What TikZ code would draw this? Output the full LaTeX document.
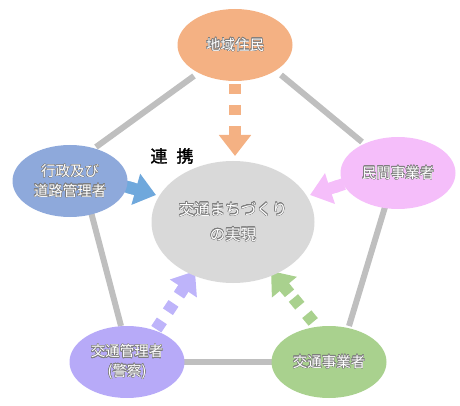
\documentclass[tikz,border=0pt]{standalone}
\usepackage{fontspec}
\setmainfont{Noto Sans CJK JP}
\newfontfamily\rkfont{Noto Sans CJK JP}[FakeBold=1.6]
\usepackage[copies]{contour}
\contourlength{0.45pt}
\contournumber{16}
\usetikzlibrary{shapes.geometric,arrows.meta,calc}
\definecolor{cOr}{RGB}{244,177,131}
\definecolor{cBl}{RGB}{142,169,219}
\definecolor{cBlA}{RGB}{111,168,220}
\definecolor{cPk}{RGB}{245,190,250}
\definecolor{cPu}{RGB}{183,170,248}
\definecolor{cPuA}{RGB}{190,180,250}
\definecolor{cGr}{RGB}{169,209,142}
\definecolor{cGy}{RGB}{217,217,217}
\definecolor{cLn}{RGB}{191,191,191}
\definecolor{cTx}{RGB}{125,125,125}
\newcommand\wt[1]{\contour{cTx}{#1}}
\newcommand\flow[3]{%
  \draw[#1, line width=12pt, dash pattern=on 10pt off 11pt,
        -{Triangle[width=31pt,length=21pt]}] (#2) -- (#3);
  \draw[#1, line width=12pt] ($(#3)!29pt!(#2)$) -- ($(#3)!20pt!(#2)$);
}
\begin{document}
\begin{tikzpicture}[x=1pt,y=-1pt,
  bub/.style={ellipse, minimum width=115pt, minimum height=72pt, inner sep=0pt,
    text=white, font=\fontsize{14.5}{19.5}\selectfont, align=center},
  link/.style={draw=cLn, line width=6pt}]
\useasboundingbox (0,0) rectangle (460,406);
% pentagon link ends
\coordinate (l1a) at (96,147);
\coordinate (l1b) at (194,76);
\coordinate (l2a) at (281,75);
\coordinate (l2b) at (362,142);
\coordinate (l3a) at (91,212);
\coordinate (l3b) at (121,326);
\coordinate (l4a) at (385,207);
\coordinate (l4b) at (349,326);
\coordinate (l5a) at (180,362);
\coordinate (l5b) at (276,362);
\draw[link] (l1a) -- (l1b);
\draw[link] (l2a) -- (l2b);
\draw[link] (l3a) -- (l3b);
\draw[link] (l4a) -- (l4b);
\draw[link] (l5a) -- (l5b);
% arrow ends
\coordinate (aOs) at (235,84);
\coordinate (aOt) at (235,156);
\coordinate (aBs) at (124,186);
\coordinate (aBt) at (156,195);
\coordinate (aPs) at (344,184);
\coordinate (aPt) at (310,195);
\coordinate (aUs) at (156.3,329.2);
\coordinate (aUt) at (195,271);
\coordinate (aGs) at (313.2,321.9);
\coordinate (aGt) at (271,271);
\flow{cOr}{aOs}{aOt}
\flow{cBlA}{aBs}{aBt}
\flow{cPk}{aPs}{aPt}
\flow{cPuA}{aUs}{aUt}
\flow{cGr}{aGs}{aGt}
% nodes
\node[bub, fill=cOr] (res) at (235,45) {\wt{地域住民}};
\node[bub, fill=cBl] (adm) at (70,181) {\wt{行政及び}\\\wt{道路管理者}};
\node[bub, fill=cPk] (pri) at (398,173) {\wt{民間事業者}};
\node[bub, fill=cPu] (pol) at (127,362) {\wt{交通管理者}\\\wt{(警察)}};
\node[bub, fill=cGr] (tra) at (329,362) {\wt{交通事業者}};
\node[ellipse, fill=cGy, minimum width=163pt, minimum height=122pt, inner sep=0pt,
  text=white, font=\fontsize{15.5}{25}\selectfont, align=center]
  (goal) at (233,222) {\wt{交通まちづくり}\\\wt{の実現}};
\node[font=\rkfont\fontsize{17}{17}\selectfont, inner sep=0pt] (rk) at (172,156) {連\hspace{9pt}携};
\end{tikzpicture}
\end{document}
